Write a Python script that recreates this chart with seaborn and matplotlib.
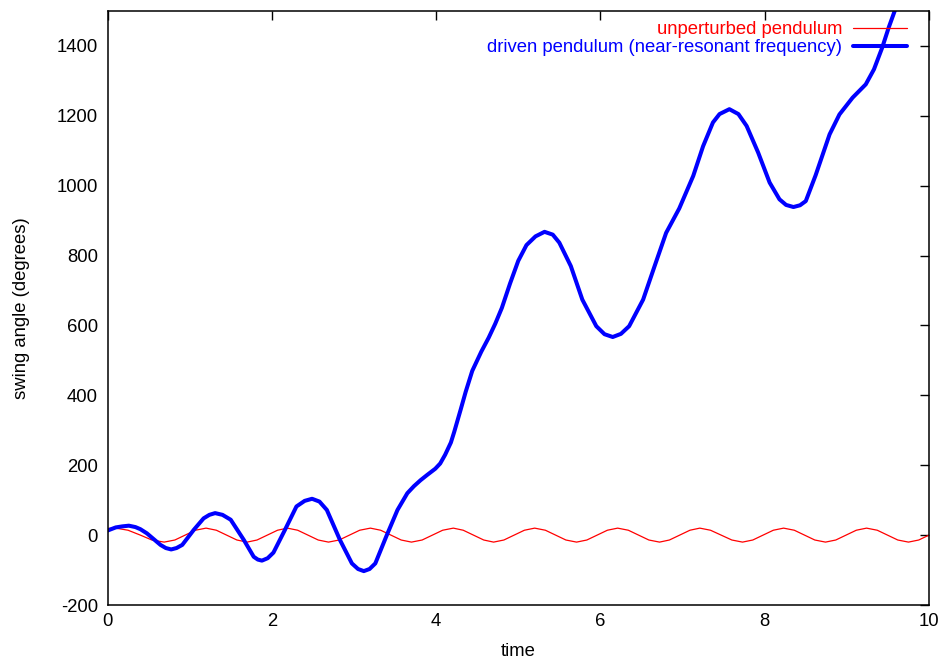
"""Unperturbed vs driven pendulum swing angle over time (gnuplot-style line chart)."""

import matplotlib
matplotlib.use("Agg")
import matplotlib.pyplot as plt
import pandas as pd
import seaborn as sns

# unperturbed pendulum: values
RED_T = [0.00, 0.10, 0.25, 0.40, 0.54, 0.69, 0.82, 0.945, 1.07, 1.20,
         1.325, 1.45, 1.575, 1.70, 1.82, 1.945, 2.07, 2.19, 2.315, 2.44,
         2.565, 2.69, 2.82, 2.945, 3.07, 3.20, 3.325, 3.45, 3.575, 3.70,
         3.83, 3.955, 4.08, 4.21, 4.33, 4.455, 4.58, 4.70, 4.825, 4.95,
         5.075, 5.20, 5.33, 5.455, 5.58, 5.71, 5.835, 5.96, 6.085, 6.21,
         6.34, 6.465, 6.59, 6.72, 6.84, 6.965, 7.09, 7.21, 7.34, 7.47,
         7.60, 7.73, 7.855, 7.98, 8.105, 8.23, 8.36, 8.485, 8.61, 8.74,
         8.865, 8.99, 9.115, 9.24, 9.37, 9.495, 9.62, 9.75, 9.875, 10.0]
RED_V = [19, 20, 14, 0, -14, -20, -14, 0, 14, 20,
         14, 0, -14, -20, -14, 0, 14, 20, 14, 0,
         -14, -20, -14, 0, 14, 20, 14, 0, -14, -20,
         -14, 0, 14, 20, 14, 0, -14, -20, -14, 0,
         14, 20, 14, 0, -14, -20, -14, 0, 14, 20,
         14, 0, -14, -20, -14, 0, 14, 20, 14, 0,
         -14, -20, -14, 0, 14, 20, 14, 0, -14, -20,
         -14, 0, 14, 20, 14, 0, -14, -20, -14, 0]

# driven pendulum (near-resonant frequency)
BLUE_T = [0.00, 0.10, 0.18, 0.26, 0.34, 0.40, 0.48, 0.645, 0.71, 0.775,
          0.84, 0.91, 1.05, 1.17, 1.24, 1.31, 1.40, 1.50, 1.66, 1.78,
          1.83, 1.88, 1.95, 2.02, 2.16, 2.30, 2.40, 2.49, 2.58, 2.67,
          2.83, 2.975, 3.05, 3.12, 3.19, 3.26, 3.40, 3.53, 3.58, 3.65,
          3.73, 3.81, 3.89, 3.99, 4.05, 4.11, 4.18, 4.22, 4.30, 4.36,
          4.44, 4.55, 4.64, 4.72, 4.80, 4.90, 5.00, 5.10, 5.21, 5.32,
          5.42, 5.50, 5.64, 5.78, 5.95, 6.05, 6.15, 6.25, 6.35, 6.52,
          6.66, 6.80, 6.96, 7.13, 7.25, 7.37, 7.45, 7.57, 7.68, 7.78,
          7.92, 8.06, 8.18, 8.26, 8.35, 8.43, 8.50, 8.62, 8.79, 8.91,
          9.07, 9.23, 9.33, 9.43, 9.51, 9.59, 9.70]
BLUE_V = [13, 22, 25, 27, 23, 17, 5, -28, -37, -41,
          -37, -28, 15, 48, 58, 63, 58, 44, -14, -62,
          -70, -73, -66, -50, 15, 82, 98, 104, 96, 72,
          -14, -81, -97, -103, -97, -81, 0, 72, 92, 120,
          140, 157, 172, 190, 205, 230, 265, 295, 360, 410,
          470, 525, 565, 605, 650, 720, 785, 830, 855, 868,
          860, 837, 770, 674, 598, 575, 567, 576, 598, 674,
          770, 865, 935, 1028, 1113, 1181, 1205, 1219, 1205, 1171,
          1095, 1009, 961, 945, 939, 944, 956, 1030, 1147, 1204,
          1252, 1290, 1333, 1395, 1453, 1505, 1580]

LABELS = ["unperturbed pendulum", "driven pendulum (near-resonant frequency)"]
X_TICKS = [0, 2, 4, 6, 8, 10]
Y_TICKS = [-200, 0, 200, 400, 600, 800, 1000, 1200, 1400]

FS = 13.3

sns.set_theme(style="white")
plt.rcParams["font.family"] = ["Liberation Sans", "DejaVu Sans"]

fig = plt.figure(figsize=(9.42, 6.6), dpi=100)
ax = fig.add_axes([107.5 / 942, 1 - 605 / 660, (929 - 107.5) / 942, (605 - 11) / 660])

red = pd.DataFrame({"t": RED_T, "v": RED_V})
blue = pd.DataFrame({"t": BLUE_T, "v": BLUE_V})
sns.lineplot(data=red, x="t", y="v", color="#ff0000", linewidth=0.9,
             sort=False, ax=ax)
sns.lineplot(data=blue, x="t", y="v", color="#0000ff", linewidth=2.9,
             sort=False, ax=ax)

ax.set_xlim(0, 10)
ax.set_ylim(-200, 1500)
ax.set_xticks(X_TICKS)
ax.set_yticks(Y_TICKS)
ax.set_xticklabels([str(v) for v in X_TICKS])
ax.set_yticklabels([str(v) for v in Y_TICKS])
ax.tick_params(direction="in", length=6.5, width=1, color="black",
               top=True, right=True, labelsize=FS, labelcolor="black")
ax.tick_params(axis="x", pad=6)
ax.tick_params(axis="y", pad=7)
for s in ax.spines.values():
    s.set_visible(True)
    s.set_color("black")
    s.set_linewidth(1.1)

ax.set_xlabel("time", fontsize=FS, color="black", labelpad=9)
ax.set_ylabel("swing angle (degrees)", fontsize=FS, color="black", labelpad=19)

# gnuplot-style key: text right-aligned against the sample line, one legend per row
lines = ax.get_lines()
key_x = (907 - 107.5) / 821.5
for i, (line, label, row_y) in enumerate(zip(lines, LABELS, [30, 48])):
    leg = ax.legend([line], [label], loc="center right",
                    bbox_to_anchor=(key_x, 1 - (row_y - 11) / 594),
                    frameon=False, markerfirst=False, fontsize=FS,
                    labelcolor="linecolor", handlelength=2.9, handletextpad=0.6,
                    borderpad=0, borderaxespad=0)
    if i == 0:
        ax.add_artist(leg)

fig.savefig("out.png", dpi=100)
plt.close(fig)
